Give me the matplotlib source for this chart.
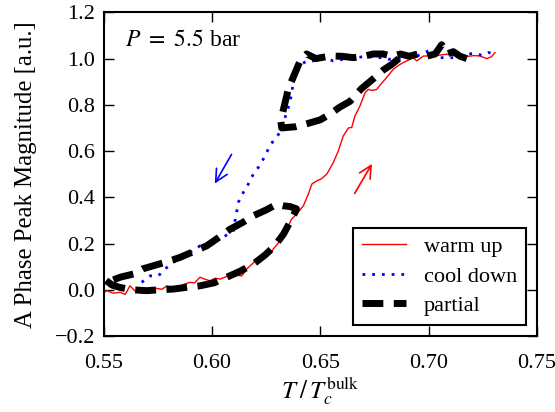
import numpy as np
import matplotlib
matplotlib.use("Agg")
import matplotlib.pyplot as plt

plt.rcParams['font.family'] = 'serif'
plt.rcParams['font.serif'] = ['Liberation Serif', 'DejaVu Serif']
plt.rcParams['mathtext.fontset'] = 'stix'
plt.rcParams['font.size'] = 16

# warm up sweep (red)
warm_T = [0.5505, 0.5515, 0.5545, 0.5576, 0.5600, 0.5622, 0.5645, 0.5668, 0.5700,
          0.5745, 0.5770, 0.5792, 0.5820, 0.5853, 0.5875, 0.5899, 0.5920, 0.5945,
          0.5970, 0.5991, 0.6015, 0.6038, 0.6070, 0.6099, 0.6120, 0.6138, 0.6161,
          0.6190, 0.6222, 0.6245, 0.6268, 0.6283, 0.6300, 0.6322, 0.6345, 0.6368,
          0.6391, 0.6422, 0.6445, 0.6461, 0.6484, 0.6505, 0.6530, 0.6545, 0.6560,
          0.6583, 0.6606, 0.6630, 0.6645, 0.6660, 0.6683, 0.6707, 0.6722, 0.6740,
          0.6761, 0.6780, 0.6799, 0.6837, 0.6860, 0.6883, 0.6910, 0.6929, 0.6945,
          0.6976, 0.7010, 0.7050, 0.7084, 0.7130, 0.7176, 0.7210, 0.7237, 0.7268,
          0.7290, 0.7306]
warm_A = [-0.010, -0.004, -0.015, -0.011, -0.020, 0.017, -0.005, -0.011, -0.008,
          0.006, 0.002, 0.017, 0.010, 0.017, 0.025, 0.032, 0.030, 0.054,
          0.045, 0.039, 0.050, 0.046, 0.058, 0.068, 0.062, 0.060, 0.090,
          0.115, 0.147, 0.150, 0.154, 0.176, 0.195, 0.219, 0.262, 0.306,
          0.327, 0.363, 0.414, 0.457, 0.471, 0.480, 0.500, 0.525, 0.550,
          0.600, 0.665, 0.700, 0.702, 0.752, 0.795, 0.853, 0.867, 0.862,
          0.867, 0.890, 0.910, 0.954, 0.970, 0.983, 0.995, 1.004, 0.990,
          1.011, 1.012, 1.015, 1.019, 1.012, 1.009, 1.013, 1.011, 1.000,
          1.008, 1.026]

# cool down sweep (blue)
cool_T = [0.5676, 0.5715, 0.5753, 0.5784, 0.5822, 0.5853, 0.5914, 0.5945, 0.5991,
          0.6038, 0.6099, 0.6107, 0.6115, 0.6122, 0.6145, 0.6168, 0.6191, 0.6214,
          0.6237, 0.6260, 0.6283, 0.6314, 0.6330, 0.6345, 0.6360, 0.6368, 0.6376,
          0.6391, 0.6414, 0.6437, 0.6468, 0.6514, 0.6560, 0.6606, 0.6668, 0.6714,
          0.6753, 0.6791, 0.6814, 0.6868, 0.6945, 0.7014, 0.7045, 0.7076, 0.7130,
          0.7176, 0.7214, 0.7245, 0.7276, 0.7306]
cool_A = [0.032, 0.060, 0.060, 0.090, 0.118, 0.140, 0.169, 0.190, 0.205,
          0.219, 0.255, 0.300, 0.340, 0.378, 0.421, 0.457, 0.500, 0.529,
          0.565, 0.608, 0.644, 0.680, 0.723, 0.767, 0.810, 0.853, 0.896,
          0.940, 0.975, 0.990, 0.990, 1.004, 0.990, 0.997, 1.004, 1.011,
          1.004, 1.004, 0.997, 1.000, 1.010, 1.040, 1.004, 1.004, 1.004,
          1.019, 1.023, 1.014, 1.026, 1.023]

# partial sweeps (black dashed): lower loop, then upper loop
partial_T = [0.5512, 0.5540, 0.5576, 0.5630, 0.5699, 0.5760, 0.5822, 0.5880,
             0.5945, 0.6010, 0.6068, 0.6130, 0.6191, 0.6245, 0.6290, 0.6330,
             0.6368, 0.6383, 0.6390, 0.6360, 0.6330, 0.6299, 0.6250, 0.6191,
             0.6140, 0.6084, 0.6030, 0.5976, 0.5915, 0.5853, 0.5790, 0.5730,
             0.5680, 0.5638, 0.5580, 0.5515, 0.5512,
             np.nan,
             0.7176, 0.7145, 0.7114, 0.7084, 0.7060, 0.7030, 0.6990, 0.6950,
             0.6910, 0.6870, 0.6830, 0.6790, 0.6745, 0.6700, 0.6653, 0.6600,
             0.6545, 0.6480, 0.6437, 0.6407, 0.6380, 0.6353, 0.6330, 0.6318,
             0.6322, 0.6384, 0.6445, 0.6500, 0.6545, 0.6590, 0.6637, 0.6690,
             0.6735, 0.6790, 0.6830, 0.6875]
partial_A = [0.040, 0.020, 0.010, 0.000, -0.004, 0.000, 0.003, 0.010,
             0.017, 0.030, 0.054, 0.080, 0.111, 0.150, 0.190, 0.240,
             0.306, 0.334, 0.350, 0.360, 0.363, 0.370, 0.345, 0.320,
             0.290, 0.262, 0.225, 0.190, 0.165, 0.140, 0.120, 0.104,
             0.090, 0.068, 0.055, 0.032, 0.040,
             np.nan,
             1.000, 1.010, 1.030, 1.020, 1.060, 1.020, 1.010, 1.020,
             1.010, 1.020, 1.010, 1.020, 1.020, 1.010, 1.004, 1.010,
             1.011, 1.000, 1.020, 0.990, 0.930, 0.870, 0.780, 0.730,
             0.700, 0.705, 0.720, 0.735, 0.760, 0.790, 0.815, 0.870,
             0.905, 0.950, 0.975, 1.010]

fig = plt.figure(figsize=(5.55, 4.12), dpi=100)
ax = fig.add_subplot(111)
fig.subplots_adjust(left=0.1865, right=0.9676, bottom=0.1845, top=0.970)

ax.plot(warm_T, warm_A, color='red', lw=1.0, label='warm up')
ax.plot(cool_T, cool_A, color='blue', lw=2.0, linestyle=(0, (1, 2.5)),
        label='cool down')
ax.plot(partial_T, partial_A, color='black', lw=5, linestyle=(0, (3, 1.5)),
        label='partial')

# sweep direction arrows
ax.annotate('', xy=(0.6007, 0.449), xytext=(0.6097, 0.596),
            arrowprops=dict(arrowstyle='->', color='blue', lw=1.2,
                            mutation_scale=22))
ax.annotate('', xy=(0.6745, 0.555), xytext=(0.6652, 0.406),
            arrowprops=dict(arrowstyle='->', color='red', lw=1.2,
                            mutation_scale=22))

ax.text(0.05, 0.914, r'$P\ =\ 5.5$ bar', transform=ax.transAxes,
        va='center', ha='left', fontsize=17)

ax.set_xlim(0.55, 0.75)
ax.set_ylim(-0.2, 1.2)
ax.set_xticks(np.arange(0.55, 0.751, 0.05))
ax.set_yticks(np.arange(-0.2, 1.21, 0.2))
ax.tick_params(direction='in', length=7, width=1, top=True, right=True)
ax.tick_params(axis='x', pad=13)
ax.tick_params(axis='y', pad=6)
for s in ax.spines.values():
    s.set_linewidth(1.5)

ax.set_xlabel(r'$T\;/\,T_c^{\mathrm{bulk}}$', fontsize=18, labelpad=1)
ax.set_ylabel('A Phase Peak Magnitude [a.u.]', fontsize=17.8, labelpad=13)

leg = ax.legend(loc='lower right', fancybox=False, handlelength=2.0,
                handletextpad=0.8, labelspacing=0.4, borderaxespad=0.5)
leg.get_frame().set_edgecolor('black')
leg.get_frame().set_linewidth(1.5)
leg.get_frame().set_alpha(1)

fig.savefig("out.png", dpi=100)
